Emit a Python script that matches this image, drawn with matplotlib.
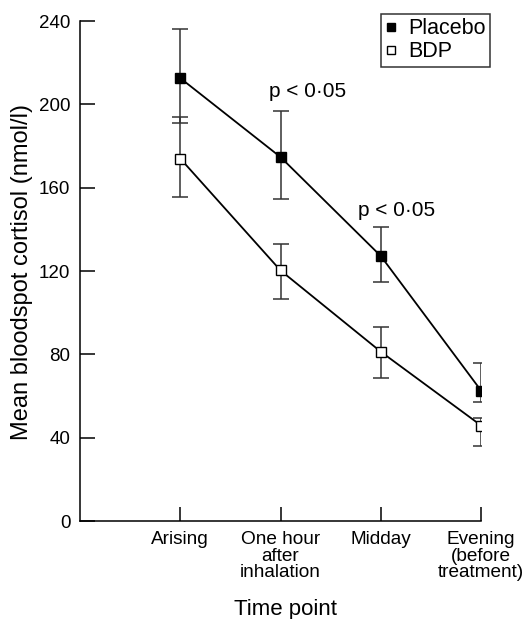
import numpy as np
import matplotlib
matplotlib.use('Agg')
import matplotlib.pyplot as plt

plt.rcParams['font.family'] = ['Liberation Sans', 'DejaVu Sans']

# 資料
time_points = ['Arising', 'One hour\nafter\ninhalation', 'Midday', 'Evening\n(before\ntreatment)']
placebo_mean = [212.6, 174.7, 127.2, 62.6]
placebo_low = [191.0, 154.6, 114.7, 57.3]
placebo_high = [236.0, 197.0, 141.3, 75.9]
bdp_mean = [174.0, 120.3, 81.3, 45.9]
bdp_low = [155.4, 106.6, 68.8, 36.0]
bdp_high = [194.0, 133.0, 93.3, 49.3]
y_ticks = [0, 40, 80, 120, 160, 200, 240]
p_labels = ['p < 0·05', 'p < 0·05']
p_pos = [(2.27, 206), (3.16, 149)]

x = np.arange(1, len(time_points) + 1)

fig = plt.figure(figsize=(5.23, 6.19), dpi=100)
ax = fig.add_axes([0.153, 0.158, 0.767, 0.808])

def yerr(mean, low, high):
    mean = np.array(mean)
    return [mean - np.array(low), np.array(high) - mean]

ax.errorbar(x, placebo_mean, yerr=yerr(placebo_mean, placebo_low, placebo_high),
            color='black', ecolor='#333333', elinewidth=1.1, capsize=5.5, capthick=1.1,
            marker='s', markersize=7, markerfacecolor='black', markeredgecolor='black',
            linewidth=1.3, label='Placebo', zorder=3)
ax.errorbar(x, bdp_mean, yerr=yerr(bdp_mean, bdp_low, bdp_high),
            color='black', ecolor='#333333', elinewidth=1.1, capsize=5.5, capthick=1.1,
            marker='s', markersize=7, markerfacecolor='white', markeredgecolor='black',
            linewidth=1.3, label='BDP', zorder=3)

for txt, (px, py) in zip(p_labels, p_pos):
    ax.text(px, py, txt, ha='center', va='center', fontsize=15)

ax.set_xlim(0, 4)
ax.set_ylim(0, 240)
ax.set_xticks(x)
ax.set_xticklabels(time_points, fontsize=13.7, linespacing=0.98)
ax.set_yticks(y_ticks)
ax.tick_params(axis='y', labelsize=13.5, direction='in', length=11, width=1.1, pad=7)
ax.tick_params(axis='x', direction='in', length=10, width=1.1, pad=7)
ax.spines['top'].set_visible(False)
ax.spines['right'].set_visible(False)
ax.spines['left'].set_linewidth(1.1)
ax.spines['bottom'].set_linewidth(1.1)

ax.set_ylabel('Mean bloodspot cortisol (nmol/l)', fontsize=17, va='center')
ax.yaxis.set_label_coords(-0.145, 0.498)
ax.set_xlabel('Time point', fontsize=16, va='center')
ax.xaxis.set_label_coords(0.511, -0.176)

# 圖例的外框
handles, labels = ax.get_legend_handles_labels()
handles = [h[0] for h in handles]
leg = ax.legend(handles, labels, loc='upper right', bbox_to_anchor=(1.05, 1.036),
                fontsize=15.5, frameon=True, fancybox=False, edgecolor='black',
                handlelength=0.6, handletextpad=0.5, borderpad=0.2, labelspacing=0.1,
                markerscale=0.9)
leg.get_frame().set_linewidth(1.1)
for h in leg.legend_handles:
    h.set_linestyle('none')

plt.savefig('out.png', dpi=100)
